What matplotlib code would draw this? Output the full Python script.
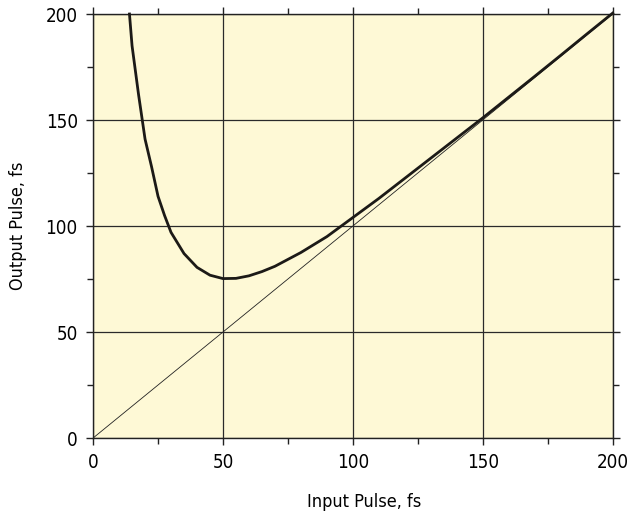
import matplotlib
matplotlib.use("Agg")
import matplotlib.pyplot as plt
from matplotlib.ticker import MultipleLocator

plt.rcParams['font.family'] = ['DejaVu Sans']
plt.rcParams['font.stretch'] = 'condensed'

# values
input_pulse = [14, 15, 17.5, 20, 22.5, 25, 27.5, 30, 35, 40, 45, 50, 55, 60, 65, 70,
               80, 90, 100, 110, 120, 130, 140, 150, 160, 170, 180, 190, 200]
output_pulse = [200, 185, 162, 141, 128, 114, 105, 97, 87, 80.5, 76.8, 75.2, 75.3, 76.5,
                78.5, 81, 87.5, 95, 104, 113, 122.5, 132, 141.5, 151, 160.8, 170.6,
                180.5, 190.5, 200.4]
reference_x = [0, 200]
reference_y = [0, 200]
ticks = [0, 50, 100, 150, 200]

fig = plt.figure(figsize=(6.29, 5.15), dpi=100)
ax = fig.add_axes([0.148, 0.1495, 0.826, 0.8233])
ax.set_facecolor('#FEF9D6')

ax.plot(reference_x, reference_y, color='#222222', lw=0.6, zorder=3)
ax.plot(input_pulse, output_pulse, color='#1c1a17', lw=2.0, zorder=4,
        solid_joinstyle='miter', clip_on=False)

ax.set_xlim(0, 200)
ax.set_ylim(0, 200)
ax.set_xticks(ticks)
ax.set_yticks(ticks)
ax.xaxis.set_minor_locator(MultipleLocator(25))
ax.yaxis.set_minor_locator(MultipleLocator(25))
ax.grid(True, which='major', color='#2a2a2a', lw=0.9, zorder=2)
ax.set_axisbelow(True)

ax.tick_params(which='both', direction='out', top=True, right=True,
               labeltop=False, labelright=False, color='#222222', width=1.0)
ax.tick_params(which='major', length=5, labelsize=13.5, pad=6)
ax.tick_params(which='minor', length=4)
for s in ax.spines.values():
    s.set_color('#222222')
    s.set_linewidth(1.0)

ax.set_xlabel('Input Pulse, fs', fontsize=13)
ax.set_ylabel('Output Pulse, fs', fontsize=13)
ax.xaxis.set_label_coords(0.522, -0.13)
ax.yaxis.set_label_coords(-0.128, 0.5)

plt.savefig('out.png', dpi=100)
